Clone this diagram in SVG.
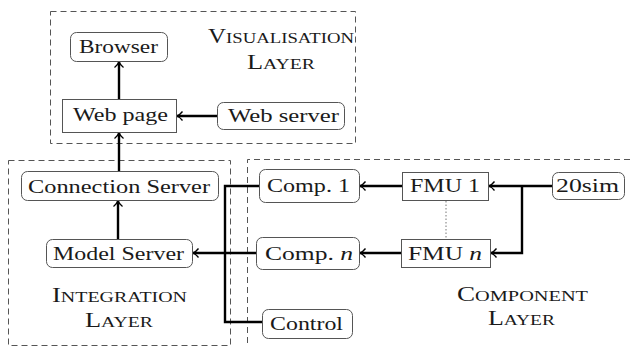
<svg xmlns="http://www.w3.org/2000/svg" width="634" height="347" viewBox="0 0 634 347">
<defs>
<marker id="arr" markerUnits="userSpaceOnUse" markerWidth="12" markerHeight="12" viewBox="-7 -6 9 12" refX="0" refY="0" orient="auto">
<path d="M-5.5,-4.5 C-3.5,-1.8 -1.5,-0.6 0.5,0 C-1.5,0.6 -3.5,1.8 -5.5,4.5" fill="none" stroke="#000" stroke-width="1.3"/>
</marker>
</defs>
<style>
.lay{fill:none;stroke:#555;stroke-width:1;stroke-dasharray:6 4}
.nd{fill:#fff;stroke:#555;stroke-width:1}
.t{font-family:"Liberation Serif","DejaVu Serif",serif;font-size:19px;fill:#1a1a1a}
.sc{font-family:"Liberation Serif","DejaVu Serif",serif;font-size:20px;fill:#1a1a1a}
.s{font-size:15px}
.c{fill:none;stroke:#000;stroke-width:2.4}
.ca{fill:none;stroke:#000;stroke-width:2.4;marker-end:url(#arr)}
.dot{stroke:#777;stroke-width:1;stroke-dasharray:1.5 2}
</style>
<g id="layers">
<rect class="lay" x="50.5" y="11.5" width="305" height="132"/>
<rect class="lay" x="8.5" y="160.5" width="222" height="185"/>
<path class="lay" d="M640,159.5 H247.5 V350"/>
<text class="sc" x="208" y="43" textLength="146" lengthAdjust="spacingAndGlyphs">V<tspan class="s">ISUALISATION</tspan></text>
<text class="sc" x="247" y="69" textLength="68" lengthAdjust="spacingAndGlyphs">L<tspan class="s">AYER</tspan></text>
<text class="sc" x="52" y="302" textLength="135" lengthAdjust="spacingAndGlyphs">I<tspan class="s">NTEGRATION</tspan></text>
<text class="sc" x="85" y="327" textLength="68" lengthAdjust="spacingAndGlyphs">L<tspan class="s">AYER</tspan></text>
<text class="sc" x="457" y="301" textLength="131" lengthAdjust="spacingAndGlyphs">C<tspan class="s">OMPONENT</tspan></text>
<text class="sc" x="488" y="325" textLength="67" lengthAdjust="spacingAndGlyphs">L<tspan class="s">AYER</tspan></text>
</g>
<g id="connectors">
<line class="ca" x1="217" y1="116" x2="177" y2="116"/>
<line class="ca" x1="119" y1="99" x2="119" y2="62"/>
<line class="ca" x1="119" y1="171" x2="119" y2="133"/>
<line class="ca" x1="118" y1="239" x2="118" y2="201"/>
<polyline class="c" points="259,186 225,186 225,322 262,322"/>
<line class="ca" x1="256" y1="253" x2="193" y2="253"/>
<line class="ca" x1="552" y1="186" x2="489" y2="186"/>
<polyline class="ca" points="522,186 522,253 491,253"/>
<line class="ca" x1="402" y1="186" x2="360" y2="186"/>
<line class="ca" x1="401" y1="253" x2="360" y2="253"/>
<line class="dot" x1="446" y1="201" x2="446" y2="239"/>
</g>
<g id="browser"><rect class="nd" x="70.5" y="32.5" width="97" height="29" rx="6"/><text class="t" x="79" y="53" textLength="79" lengthAdjust="spacingAndGlyphs">Browser</text></g>
<g id="webpage"><rect class="nd" x="62.5" y="99.5" width="114" height="33"/><text class="t" x="73" y="121" textLength="95" lengthAdjust="spacingAndGlyphs">Web page</text></g>
<g id="webserver"><rect class="nd" x="217.5" y="102.5" width="127" height="27" rx="6"/><text class="t" x="228" y="122" textLength="111" lengthAdjust="spacingAndGlyphs">Web server</text></g>
<g id="connserver"><rect class="nd" x="21.5" y="171.5" width="197" height="29" rx="6"/><text class="t" x="28" y="193" textLength="182" lengthAdjust="spacingAndGlyphs">Connection Server</text></g>
<g id="modelserver"><rect class="nd" x="46.5" y="239.5" width="146" height="28" rx="6"/><text class="t" x="53" y="260" textLength="131" lengthAdjust="spacingAndGlyphs">Model Server</text></g>
<g id="comp1"><rect class="nd" x="259.5" y="169.5" width="100" height="33" rx="6"/><text class="t" x="267" y="192" textLength="83" lengthAdjust="spacingAndGlyphs">Comp. 1</text></g>
<g id="compn"><rect class="nd" x="256.5" y="237.5" width="103" height="32" rx="6"/><text class="t" x="265" y="260" textLength="88" lengthAdjust="spacingAndGlyphs">Comp. <tspan font-style="italic">n</tspan></text></g>
<g id="control"><rect class="nd" x="262.5" y="309.5" width="90" height="29" rx="6"/><text class="t" x="270" y="330" textLength="73" lengthAdjust="spacingAndGlyphs">Control</text></g>
<g id="fmu1"><rect class="nd" x="402.5" y="172.5" width="86" height="28"/><text class="t" x="410" y="192" textLength="70" lengthAdjust="spacingAndGlyphs">FMU 1</text></g>
<g id="fmun"><rect class="nd" x="401.5" y="239.5" width="89" height="28"/><text class="t" x="408" y="260" textLength="74" lengthAdjust="spacingAndGlyphs">FMU <tspan font-style="italic">n</tspan></text></g>
<g id="sim20"><rect class="nd" x="552.5" y="172.5" width="72" height="27" rx="6"/><text class="t" x="556" y="192" textLength="63" lengthAdjust="spacingAndGlyphs">20sim</text></g>
</svg>
